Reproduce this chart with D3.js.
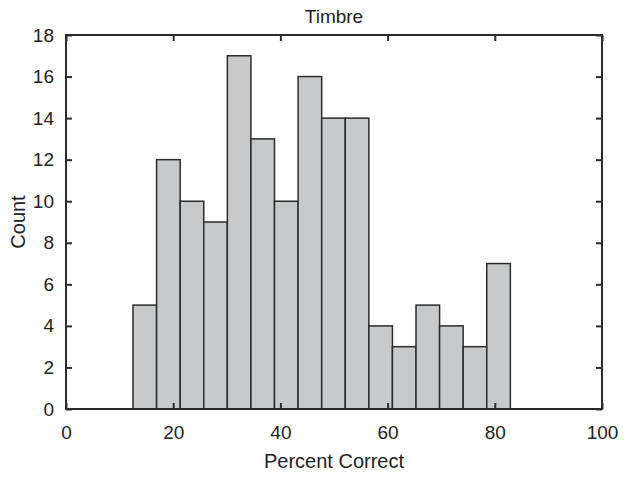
<!DOCTYPE html>
<html><head><meta charset="utf-8">
<script src="https://cdn.jsdelivr.net/npm/d3@7"></script>
<style>body{margin:0;background:#fff}svg{display:block}text{font-family:"Liberation Sans",Arial,sans-serif;fill:#222}</style>
</head><body>
<script>
const binStart = [12.5,16.9,21.3,25.7,30.1,34.5,38.9,43.3,47.7,52.1,56.5,60.9,65.3,69.7,74.1,78.5];
const binWidth = 4.4;
const counts = [5,12,10,9,17,13,10,16,14,14,4,3,5,4,3,7];
const xTicks = [0,20,40,60,80,100];
const yTicks = [0,2,4,6,8,10,12,14,16,18];
const title = "Timbre", xLabel = "Percent Correct", yLabel = "Count";

const W=624,H=478, m={l:66,r:22,t:35,b:69};
const svg=d3.select("body").append("svg").attr("width",W).attr("height",H);
const x=d3.scaleLinear().domain([0,100]).range([m.l,W-m.r]);
const y=d3.scaleLinear().domain([0,18]).range([H-m.b,m.t]);
const stroke="#2b2b2b";

svg.append("g").selectAll("rect").data(counts).join("rect")
 .attr("x",(d,i)=>x(binStart[i])).attr("width",(d,i)=>x(binStart[i]+binWidth)-x(binStart[i]))
 .attr("y",d=>y(d)).attr("height",d=>y(0)-y(d))
 .attr("fill","#c8c9ca").attr("stroke",stroke).attr("stroke-width",1.5);

const fs="19px";
const ax=(g)=>{g.select(".domain").remove();g.selectAll("line").attr("stroke",stroke).attr("stroke-width",2);};
svg.append("g").attr("transform",`translate(0,${y(0)})`).call(d3.axisBottom(x).tickValues(xTicks).tickSize(-6).tickPadding(17))
 .call(ax).call(g=>g.selectAll("text").style("font-size",fs).attr("fill","#222"));
svg.append("g").attr("transform",`translate(0,${m.t})`).call(d3.axisTop(x).tickValues(xTicks).tickSize(-6).tickFormat(""))
 .call(ax);
svg.append("g").attr("transform",`translate(${m.l},0)`).call(d3.axisLeft(y).tickValues(yTicks).tickSize(-6).tickPadding(12))
 .call(ax).call(g=>g.selectAll("text").style("font-size",fs).attr("fill","#222"));
svg.append("g").attr("transform",`translate(${W-m.r},0)`).call(d3.axisRight(y).tickValues(yTicks).tickSize(-6).tickFormat(""))
 .call(ax);
svg.append("rect").attr("x",m.l).attr("y",m.t).attr("width",W-m.r-m.l).attr("height",H-m.b-m.t)
 .attr("fill","none").attr("stroke",stroke).attr("stroke-width",2);

svg.append("text").attr("x",334).attr("y",23).attr("text-anchor","middle").style("font-size","19px").text(title);
svg.append("text").attr("x",334).attr("y",468).attr("text-anchor","middle").style("font-size","20px").text(xLabel);
svg.append("text").attr("transform",`translate(25,${(m.t+H-m.b)/2}) rotate(-90)`).attr("text-anchor","middle").style("font-size","20px").text(yLabel);
</script>
</body></html>
